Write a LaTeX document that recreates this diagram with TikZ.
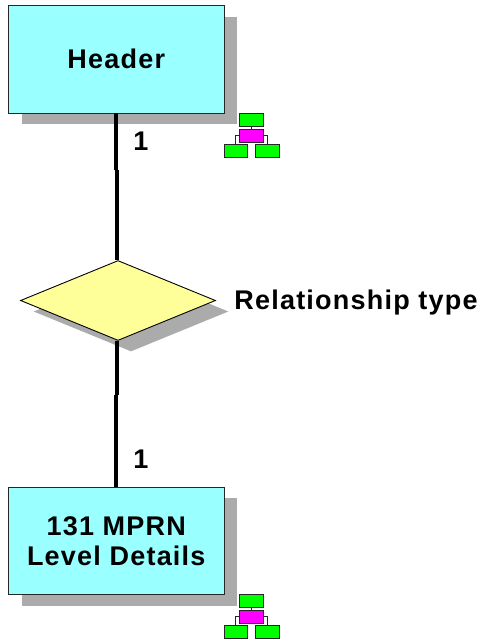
\documentclass[tikz,border=0pt]{standalone}
\usepackage{fontspec}
\setmainfont{Liberation Sans}[LetterSpace=4.5]
\usetikzlibrary{shapes.geometric,shadows}
\definecolor{boxcyan}{HTML}{99FFFF}
\definecolor{boxyellow}{HTML}{FFFF99}
\definecolor{shadowgrey}{HTML}{ABABAB}
\definecolor{iconlime}{HTML}{00FF00}
\definecolor{iconpink}{HTML}{FF00FF}
\tikzset{
  dropshadow/.style={copy shadow={draw=none,fill=shadowgrey,shadow xshift=13pt,shadow yshift=-11pt}},
  entity/.style={draw=black!85,line width=0.9pt,fill=boxcyan,minimum width=215.5pt,minimum height=107.5pt,inner sep=0pt,align=center,dropshadow,font=\fontsize{27}{30}\selectfont\bfseries},
  relation/.style={diamond,draw=black,line width=0.9pt,fill=boxyellow,minimum width=195pt,minimum height=80pt,inner sep=0pt,dropshadow},
  label/.style={inner sep=0pt,font=\fontsize{27}{30}\selectfont\bfseries},
  link/.style={line width=4.2pt,black},
  iconbox/.style={draw=black!85,line width=0.8pt,minimum width=23.5pt,minimum height=13pt,inner sep=0pt},
  iconlink/.style={draw=black!85,line width=0.7pt},
}
\newcommand{\orgicon}[2]{%
  \node[iconbox,fill=iconlime] (#1a) at (251.3,#2+119.5) {};
  \node[iconbox,fill=iconpink] (#1b) at (251.3,#2+135.5) {};
  \node[iconbox,fill=iconlime] (#1c) at (235.7,#2+150.5) {};
  \node[iconbox,fill=iconlime] (#1d) at (267.2,#2+150.5) {};
  \draw[iconlink] (#1a.south) -- (#1b.north);
  \draw[iconlink] (#1b.west) -| (#1c.north);
  \draw[iconlink] (#1b.east) -| (#1d.north);
}
\begin{document}
\begin{tikzpicture}[x=1pt,y=-1pt]
\useasboundingbox (0,0) rectangle (483,643);
\node[entity] (header) at (116.25,59.25) {Header};
\node[relation] (rel) at (118,300.5) {};
\node[entity] (detail) at (116.25,541) {131 MPRN\\Level Details};
\node[label] (rellabel) at (356,303) {Relationship type};
\node[label] (card1) at (141,141.5) {1};
\node[label] (card2) at (141,459) {1};
\coordinate (j1) at (115.6,170);
\coordinate (j2) at (117,170);
\coordinate (j3) at (117,395);
\coordinate (j4) at (115.8,395);
\draw[link] (j1 |- header.south) -- (j1);
\draw[link] (j2) -- (j2 |- rel.north);
\draw[link] (j3 |- rel.south) -- (j3);
\draw[link] (j4) -- (j4 |- detail.north);
\orgicon{top}{0}
\orgicon{bot}{481}
\end{tikzpicture}
\end{document}
